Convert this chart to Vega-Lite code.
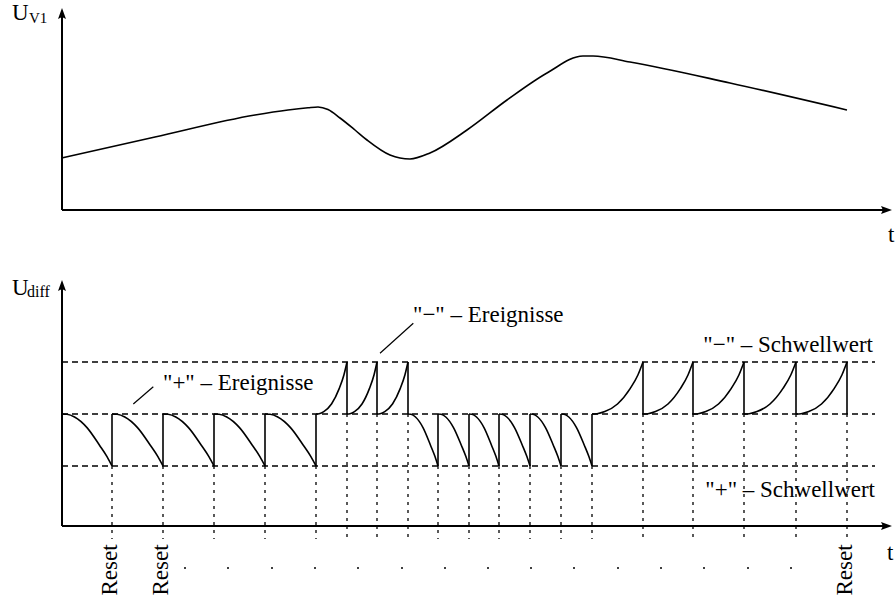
{
  "$schema": "https://vega.github.io/schema/vega-lite/v6.json",
  "width": 895,
  "height": 601,
  "autosize": {"type": "none"},
  "padding": 0,
  "background": "white",
  "config": {"view": {"stroke": null}, "axis": {"disable": true}, "font": "Liberation Serif"},
  "datasets": {
    "topcurve": [
      {"t": 0, "u": 2.6}, {"t": 93, "u": 3.65}, {"t": 193, "u": 4.75}, {"t": 226, "u": 5.0},
      {"t": 246, "u": 5.11}, {"t": 256, "u": 5.15}, {"t": 266, "u": 5.02}, {"t": 278, "u": 4.6},
      {"t": 293, "u": 4.0}, {"t": 305, "u": 3.5}, {"t": 328, "u": 2.75}, {"t": 348, "u": 2.55},
      {"t": 368, "u": 2.85}, {"t": 405, "u": 4.0}, {"t": 445, "u": 5.5}, {"t": 485, "u": 6.85},
      {"t": 521, "u": 7.7}, {"t": 531, "u": 7.7}, {"t": 568, "u": 7.4}, {"t": 668, "u": 6.35},
      {"t": 785, "u": 5.0}
    ],
    "topaxes": [
      {"t": 0, "t2": 0, "u": 0, "u2": 9.75},
      {"t": 0, "t2": 823, "u": 0, "u2": 0}
    ],
    "toparrowup": [{"t": 0, "u": 9.75}],
    "toparrowright": [{"t": 823, "u": 0}],
    "toplabels": [
      {"t": -50, "u": 9.5, "label": "U"},
      {"t": 826, "u": -1.6, "label": "t"}
    ],
    "topsub": [{"t": -33, "u": 9.33, "label": "V1"}],
    "baxes": [
      {"t": 0, "t2": 0, "u": 0, "u2": 11.95},
      {"t": 0, "t2": 823, "u": 0, "u2": 0}
    ],
    "barrowup": [{"t": 0, "u": 11.95}],
    "barrowright": [{"t": 823, "u": 0}],
    "thresholds": [
      {"t": 0, "t2": 813, "u": 8.2},
      {"t": 0, "t2": 813, "u": 5.6},
      {"t": 0, "t2": 813, "u": 3.0}
    ],
    "guides": [
      {"t": 50, "u": 3.0, "u2": -0.65}, {"t": 101, "u": 3.0, "u2": -0.65},
      {"t": 152, "u": 3.0, "u2": -0.65}, {"t": 203, "u": 3.0, "u2": -0.65},
      {"t": 254, "u": 3.0, "u2": -0.65},
      {"t": 285, "u": 5.6, "u2": -0.65}, {"t": 315, "u": 5.6, "u2": -0.65},
      {"t": 346, "u": 5.6, "u2": -0.65},
      {"t": 376, "u": 3.0, "u2": -0.65}, {"t": 407, "u": 3.0, "u2": -0.65},
      {"t": 437, "u": 3.0, "u2": -0.65}, {"t": 468, "u": 3.0, "u2": -0.65},
      {"t": 499, "u": 3.0, "u2": -0.65}, {"t": 530, "u": 3.0, "u2": -0.65},
      {"t": 581, "u": 5.6, "u2": -0.65}, {"t": 631, "u": 5.6, "u2": -0.65},
      {"t": 682, "u": 5.6, "u2": -0.65}, {"t": 734, "u": 5.6, "u2": -0.65},
      {"t": 785, "u": 5.6, "u2": -0.65}
    ],
    "jumps": [
      {"t": 50, "u": 3.0, "u2": 5.6}, {"t": 101, "u": 3.0, "u2": 5.6},
      {"t": 152, "u": 3.0, "u2": 5.6}, {"t": 203, "u": 3.0, "u2": 5.6},
      {"t": 254, "u": 3.0, "u2": 5.6},
      {"t": 285, "u": 8.2, "u2": 5.6}, {"t": 315, "u": 8.2, "u2": 5.6},
      {"t": 346, "u": 8.2, "u2": 5.6},
      {"t": 376, "u": 3.0, "u2": 5.6}, {"t": 407, "u": 3.0, "u2": 5.6},
      {"t": 437, "u": 3.0, "u2": 5.6}, {"t": 468, "u": 3.0, "u2": 5.6},
      {"t": 499, "u": 3.0, "u2": 5.6}, {"t": 530, "u": 3.0, "u2": 5.6},
      {"t": 581, "u": 8.2, "u2": 5.6}, {"t": 631, "u": 8.2, "u2": 5.6},
      {"t": 682, "u": 8.2, "u2": 5.6}, {"t": 734, "u": 8.2, "u2": 5.6},
      {"t": 785, "u": 8.2, "u2": 5.6}
    ],
    "bcurve": [
      {"s": 1, "t": 0, "u": 5.6}, {"s": 1, "t": 5, "u": 5.585}, {"s": 1, "t": 12.5, "u": 5.45}, {"s": 1, "t": 25, "u": 4.92}, {"s": 1, "t": 37.5, "u": 4.04}, {"s": 1, "t": 45, "u": 3.47}, {"s": 1, "t": 50, "u": 3.0},
      {"s": 2, "t": 50, "u": 5.6}, {"s": 2, "t": 55.1, "u": 5.585}, {"s": 2, "t": 62.8, "u": 5.45}, {"s": 2, "t": 75.5, "u": 4.92}, {"s": 2, "t": 88.3, "u": 4.04}, {"s": 2, "t": 95.9, "u": 3.47}, {"s": 2, "t": 101, "u": 3.0},
      {"s": 3, "t": 101, "u": 5.6}, {"s": 3, "t": 106.1, "u": 5.585}, {"s": 3, "t": 113.8, "u": 5.45}, {"s": 3, "t": 126.5, "u": 4.92}, {"s": 3, "t": 139.3, "u": 4.04}, {"s": 3, "t": 146.9, "u": 3.47}, {"s": 3, "t": 152, "u": 3.0},
      {"s": 4, "t": 152, "u": 5.6}, {"s": 4, "t": 157.1, "u": 5.585}, {"s": 4, "t": 164.8, "u": 5.45}, {"s": 4, "t": 177.5, "u": 4.92}, {"s": 4, "t": 190.3, "u": 4.04}, {"s": 4, "t": 197.9, "u": 3.47}, {"s": 4, "t": 203, "u": 3.0},
      {"s": 5, "t": 203, "u": 5.6}, {"s": 5, "t": 208.1, "u": 5.585}, {"s": 5, "t": 215.8, "u": 5.45}, {"s": 5, "t": 228.5, "u": 4.92}, {"s": 5, "t": 241.3, "u": 4.04}, {"s": 5, "t": 248.9, "u": 3.47}, {"s": 5, "t": 254, "u": 3.0},
      {"s": 6, "t": 254, "u": 5.6}, {"s": 6, "t": 257.1, "u": 5.615}, {"s": 6, "t": 261.8, "u": 5.72}, {"s": 6, "t": 269.5, "u": 6.1}, {"s": 6, "t": 277.3, "u": 6.88}, {"s": 6, "t": 281.9, "u": 7.55}, {"s": 6, "t": 285, "u": 8.2},
      {"s": 7, "t": 285, "u": 5.6}, {"s": 7, "t": 288, "u": 5.615}, {"s": 7, "t": 292.5, "u": 5.72}, {"s": 7, "t": 300, "u": 6.1}, {"s": 7, "t": 307.5, "u": 6.88}, {"s": 7, "t": 312, "u": 7.55}, {"s": 7, "t": 315, "u": 8.2},
      {"s": 8, "t": 315, "u": 5.6}, {"s": 8, "t": 318.1, "u": 5.615}, {"s": 8, "t": 322.8, "u": 5.72}, {"s": 8, "t": 330.5, "u": 6.1}, {"s": 8, "t": 338.3, "u": 6.88}, {"s": 8, "t": 342.9, "u": 7.55}, {"s": 8, "t": 346, "u": 8.2},
      {"s": 9, "t": 346, "u": 5.6}, {"s": 9, "t": 349, "u": 5.585}, {"s": 9, "t": 353.5, "u": 5.45}, {"s": 9, "t": 361, "u": 4.92}, {"s": 9, "t": 368.5, "u": 4.04}, {"s": 9, "t": 373, "u": 3.47}, {"s": 9, "t": 376, "u": 3.0},
      {"s": 10, "t": 376, "u": 5.6}, {"s": 10, "t": 379.1, "u": 5.585}, {"s": 10, "t": 383.8, "u": 5.45}, {"s": 10, "t": 391.5, "u": 4.92}, {"s": 10, "t": 399.3, "u": 4.04}, {"s": 10, "t": 403.9, "u": 3.47}, {"s": 10, "t": 407, "u": 3.0},
      {"s": 11, "t": 407, "u": 5.6}, {"s": 11, "t": 410, "u": 5.585}, {"s": 11, "t": 414.5, "u": 5.45}, {"s": 11, "t": 422, "u": 4.92}, {"s": 11, "t": 429.5, "u": 4.04}, {"s": 11, "t": 434, "u": 3.47}, {"s": 11, "t": 437, "u": 3.0},
      {"s": 12, "t": 437, "u": 5.6}, {"s": 12, "t": 440.1, "u": 5.585}, {"s": 12, "t": 444.8, "u": 5.45}, {"s": 12, "t": 452.5, "u": 4.92}, {"s": 12, "t": 460.3, "u": 4.04}, {"s": 12, "t": 464.9, "u": 3.47}, {"s": 12, "t": 468, "u": 3.0},
      {"s": 13, "t": 468, "u": 5.6}, {"s": 13, "t": 471.1, "u": 5.585}, {"s": 13, "t": 475.8, "u": 5.45}, {"s": 13, "t": 483.5, "u": 4.92}, {"s": 13, "t": 491.3, "u": 4.04}, {"s": 13, "t": 495.9, "u": 3.47}, {"s": 13, "t": 499, "u": 3.0},
      {"s": 14, "t": 499, "u": 5.6}, {"s": 14, "t": 502.1, "u": 5.585}, {"s": 14, "t": 506.8, "u": 5.45}, {"s": 14, "t": 514.5, "u": 4.92}, {"s": 14, "t": 522.3, "u": 4.04}, {"s": 14, "t": 526.9, "u": 3.47}, {"s": 14, "t": 530, "u": 3.0},
      {"s": 15, "t": 530, "u": 5.6}, {"s": 15, "t": 535.1, "u": 5.615}, {"s": 15, "t": 542.8, "u": 5.72}, {"s": 15, "t": 555.5, "u": 6.1}, {"s": 15, "t": 568.3, "u": 6.88}, {"s": 15, "t": 575.9, "u": 7.55}, {"s": 15, "t": 581, "u": 8.2},
      {"s": 16, "t": 581, "u": 5.6}, {"s": 16, "t": 586, "u": 5.615}, {"s": 16, "t": 593.5, "u": 5.72}, {"s": 16, "t": 606, "u": 6.1}, {"s": 16, "t": 618.5, "u": 6.88}, {"s": 16, "t": 626, "u": 7.55}, {"s": 16, "t": 631, "u": 8.2},
      {"s": 17, "t": 631, "u": 5.6}, {"s": 17, "t": 636.1, "u": 5.615}, {"s": 17, "t": 643.8, "u": 5.72}, {"s": 17, "t": 656.5, "u": 6.1}, {"s": 17, "t": 669.3, "u": 6.88}, {"s": 17, "t": 676.9, "u": 7.55}, {"s": 17, "t": 682, "u": 8.2},
      {"s": 18, "t": 682, "u": 5.6}, {"s": 18, "t": 687.2, "u": 5.615}, {"s": 18, "t": 695, "u": 5.72}, {"s": 18, "t": 708, "u": 6.1}, {"s": 18, "t": 721, "u": 6.88}, {"s": 18, "t": 728.8, "u": 7.55}, {"s": 18, "t": 734, "u": 8.2},
      {"s": 19, "t": 734, "u": 5.6}, {"s": 19, "t": 739.1, "u": 5.615}, {"s": 19, "t": 746.8, "u": 5.72}, {"s": 19, "t": 759.5, "u": 6.1}, {"s": 19, "t": 772.3, "u": 6.88}, {"s": 19, "t": 779.9, "u": 7.55}, {"s": 19, "t": 785, "u": 8.2}
    ],
    "leaders": [
      {"t": 71.3, "t2": 91.3, "u": 6.1, "u2": 6.965},
      {"t": 318, "t2": 351.3, "u": 8.635, "u2": 10.135}
    ],
    "blabels": [
      {"t": -50, "u": 11.55, "label": "U"},
      {"t": 825, "u": -1.7, "label": "t"},
      {"t": 101, "u": 6.8, "label": "\"+\" – Ereignisse"},
      {"t": 351, "u": 10.2, "label": "\"−\" – Ereignisse"}
    ],
    "bsub": [{"t": -35, "u": 11.43, "label": "diff"}],
    "bright": [
      {"t": 811, "u": 8.7, "label": "\"−\" – Schwellwert"},
      {"t": 813, "u": 1.45, "label": "\"+\" – Schwellwert"}
    ],
    "resets": [
      {"t": 48, "u": -2.2, "label": "Reset"},
      {"t": 99, "u": -2.2, "label": "Reset"},
      {"t": 783, "u": -2.2, "label": "Reset"}
    ],
    "dots": [
      {"t": 123, "u": -2.1}, {"t": 166, "u": -2.1}, {"t": 210, "u": -2.1}, {"t": 253, "u": -2.1},
      {"t": 296, "u": -2.1}, {"t": 340, "u": -2.1}, {"t": 383, "u": -2.1}, {"t": 426, "u": -2.1},
      {"t": 469, "u": -2.1}, {"t": 512, "u": -2.1}, {"t": 556, "u": -2.1}, {"t": 599, "u": -2.1},
      {"t": 642, "u": -2.1}, {"t": 686, "u": -2.1}, {"t": 729, "u": -2.1}
    ]
  },
  "resolve": {"scale": {"y": "independent"}},
  "layer": [
    {
      "layer": [
        {
          "data": {"name": "topaxes"},
          "mark": {"type": "rule", "color": "black", "strokeWidth": 2},
          "encoding": {
            "x": {"field": "t", "type": "quantitative", "scale": {"domain": [-62, 833], "nice": false, "zero": false}},
            "x2": {"field": "t2"},
            "y": {"field": "u", "type": "quantitative", "scale": {"domain": [-19.55, 10.5], "nice": false, "zero": false}},
            "y2": {"field": "u2"}
          }
        },
        {
          "data": {"name": "toparrowup"},
          "mark": {"type": "point", "shape": "M0,-1L0.57,0.57L0,0.3L-0.57,0.57Z", "filled": true, "size": 196, "color": "black", "opacity": 1, "strokeWidth": 0},
          "encoding": {
            "x": {"field": "t", "type": "quantitative", "scale": {"domain": [-62, 833], "nice": false, "zero": false}},
            "y": {"field": "u", "type": "quantitative", "scale": {"domain": [-19.55, 10.5], "nice": false, "zero": false}}
          }
        },
        {
          "data": {"name": "toparrowright"},
          "mark": {"type": "point", "shape": "M1,0L-0.57,0.57L-0.3,0L-0.57,-0.57Z", "filled": true, "size": 196, "color": "black", "opacity": 1, "strokeWidth": 0},
          "encoding": {
            "x": {"field": "t", "type": "quantitative", "scale": {"domain": [-62, 833], "nice": false, "zero": false}},
            "y": {"field": "u", "type": "quantitative", "scale": {"domain": [-19.55, 10.5], "nice": false, "zero": false}}
          }
        },
        {
          "data": {"name": "topcurve"},
          "mark": {"type": "line", "color": "black", "strokeWidth": 1.6, "interpolate": "monotone"},
          "encoding": {
            "x": {"field": "t", "type": "quantitative", "scale": {"domain": [-62, 833], "nice": false, "zero": false}},
            "y": {"field": "u", "type": "quantitative", "scale": {"domain": [-19.55, 10.5], "nice": false, "zero": false}}
          }
        },
        {
          "data": {"name": "toplabels"},
          "mark": {"type": "text", "font": "Liberation Serif", "fontSize": 23, "align": "left", "baseline": "alphabetic", "color": "black"},
          "encoding": {
            "x": {"field": "t", "type": "quantitative", "scale": {"domain": [-62, 833], "nice": false, "zero": false}},
            "y": {"field": "u", "type": "quantitative", "scale": {"domain": [-19.55, 10.5], "nice": false, "zero": false}},
            "text": {"field": "label"}
          }
        },
        {
          "data": {"name": "topsub"},
          "mark": {"type": "text", "font": "Liberation Serif", "fontSize": 15, "align": "left", "baseline": "alphabetic", "color": "black"},
          "encoding": {
            "x": {"field": "t", "type": "quantitative", "scale": {"domain": [-62, 833], "nice": false, "zero": false}},
            "y": {"field": "u", "type": "quantitative", "scale": {"domain": [-19.55, 10.5], "nice": false, "zero": false}},
            "text": {"field": "label"}
          }
        }
      ]
    },
    {
      "layer": [
        {
          "data": {"name": "thresholds"},
          "mark": {"type": "rule", "color": "black", "strokeWidth": 1.3, "strokeDash": [6, 4]},
          "encoding": {
            "x": {"field": "t", "type": "quantitative", "scale": {"domain": [-62, 833], "nice": false, "zero": false}},
            "x2": {"field": "t2"},
            "y": {"field": "u", "type": "quantitative", "scale": {"domain": [-3.75, 26.3], "nice": false, "zero": false}}
          }
        },
        {
          "data": {"name": "guides"},
          "mark": {"type": "rule", "color": "black", "strokeWidth": 1.3, "strokeDash": [3, 5]},
          "encoding": {
            "x": {"field": "t", "type": "quantitative", "scale": {"domain": [-62, 833], "nice": false, "zero": false}},
            "y": {"field": "u", "type": "quantitative", "scale": {"domain": [-3.75, 26.3], "nice": false, "zero": false}},
            "y2": {"field": "u2"}
          }
        },
        {
          "data": {"name": "baxes"},
          "mark": {"type": "rule", "color": "black", "strokeWidth": 2},
          "encoding": {
            "x": {"field": "t", "type": "quantitative", "scale": {"domain": [-62, 833], "nice": false, "zero": false}},
            "x2": {"field": "t2"},
            "y": {"field": "u", "type": "quantitative", "scale": {"domain": [-3.75, 26.3], "nice": false, "zero": false}},
            "y2": {"field": "u2"}
          }
        },
        {
          "data": {"name": "barrowup"},
          "mark": {"type": "point", "shape": "M0,-1L0.57,0.57L0,0.3L-0.57,0.57Z", "filled": true, "size": 196, "color": "black", "opacity": 1, "strokeWidth": 0},
          "encoding": {
            "x": {"field": "t", "type": "quantitative", "scale": {"domain": [-62, 833], "nice": false, "zero": false}},
            "y": {"field": "u", "type": "quantitative", "scale": {"domain": [-3.75, 26.3], "nice": false, "zero": false}}
          }
        },
        {
          "data": {"name": "barrowright"},
          "mark": {"type": "point", "shape": "M1,0L-0.57,0.57L-0.3,0L-0.57,-0.57Z", "filled": true, "size": 196, "color": "black", "opacity": 1, "strokeWidth": 0},
          "encoding": {
            "x": {"field": "t", "type": "quantitative", "scale": {"domain": [-62, 833], "nice": false, "zero": false}},
            "y": {"field": "u", "type": "quantitative", "scale": {"domain": [-3.75, 26.3], "nice": false, "zero": false}}
          }
        },
        {
          "data": {"name": "jumps"},
          "mark": {"type": "rule", "color": "black", "strokeWidth": 1.6},
          "encoding": {
            "x": {"field": "t", "type": "quantitative", "scale": {"domain": [-62, 833], "nice": false, "zero": false}},
            "y": {"field": "u", "type": "quantitative", "scale": {"domain": [-3.75, 26.3], "nice": false, "zero": false}},
            "y2": {"field": "u2"}
          }
        },
        {
          "data": {"name": "bcurve"},
          "mark": {"type": "line", "color": "black", "strokeWidth": 1.6, "interpolate": "monotone"},
          "encoding": {
            "x": {"field": "t", "type": "quantitative", "scale": {"domain": [-62, 833], "nice": false, "zero": false}},
            "y": {"field": "u", "type": "quantitative", "scale": {"domain": [-3.75, 26.3], "nice": false, "zero": false}},
            "detail": {"field": "s", "type": "nominal"}
          }
        },
        {
          "data": {"name": "leaders"},
          "mark": {"type": "rule", "color": "black", "strokeWidth": 1.2},
          "encoding": {
            "x": {"field": "t", "type": "quantitative", "scale": {"domain": [-62, 833], "nice": false, "zero": false}},
            "x2": {"field": "t2"},
            "y": {"field": "u", "type": "quantitative", "scale": {"domain": [-3.75, 26.3], "nice": false, "zero": false}},
            "y2": {"field": "u2"}
          }
        },
        {
          "data": {"name": "dots"},
          "mark": {"type": "circle", "color": "black", "size": 4, "opacity": 1},
          "encoding": {
            "x": {"field": "t", "type": "quantitative", "scale": {"domain": [-62, 833], "nice": false, "zero": false}},
            "y": {"field": "u", "type": "quantitative", "scale": {"domain": [-3.75, 26.3], "nice": false, "zero": false}}
          }
        },
        {
          "data": {"name": "blabels"},
          "mark": {"type": "text", "font": "Liberation Serif", "fontSize": 23, "align": "left", "baseline": "alphabetic", "color": "black"},
          "encoding": {
            "x": {"field": "t", "type": "quantitative", "scale": {"domain": [-62, 833], "nice": false, "zero": false}},
            "y": {"field": "u", "type": "quantitative", "scale": {"domain": [-3.75, 26.3], "nice": false, "zero": false}},
            "text": {"field": "label"}
          }
        },
        {
          "data": {"name": "bsub"},
          "mark": {"type": "text", "font": "Liberation Serif", "fontSize": 16, "align": "left", "baseline": "alphabetic", "color": "black"},
          "encoding": {
            "x": {"field": "t", "type": "quantitative", "scale": {"domain": [-62, 833], "nice": false, "zero": false}},
            "y": {"field": "u", "type": "quantitative", "scale": {"domain": [-3.75, 26.3], "nice": false, "zero": false}},
            "text": {"field": "label"}
          }
        },
        {
          "data": {"name": "bright"},
          "mark": {"type": "text", "font": "Liberation Serif", "fontSize": 23, "align": "right", "baseline": "alphabetic", "color": "black"},
          "encoding": {
            "x": {"field": "t", "type": "quantitative", "scale": {"domain": [-62, 833], "nice": false, "zero": false}},
            "y": {"field": "u", "type": "quantitative", "scale": {"domain": [-3.75, 26.3], "nice": false, "zero": false}},
            "text": {"field": "label"}
          }
        },
        {
          "data": {"name": "resets"},
          "mark": {"type": "text", "font": "Liberation Serif", "fontSize": 23, "align": "center", "baseline": "middle", "angle": 270, "color": "black"},
          "encoding": {
            "x": {"field": "t", "type": "quantitative", "scale": {"domain": [-62, 833], "nice": false, "zero": false}},
            "y": {"field": "u", "type": "quantitative", "scale": {"domain": [-3.75, 26.3], "nice": false, "zero": false}},
            "text": {"field": "label"}
          }
        }
      ]
    }
  ]
}
